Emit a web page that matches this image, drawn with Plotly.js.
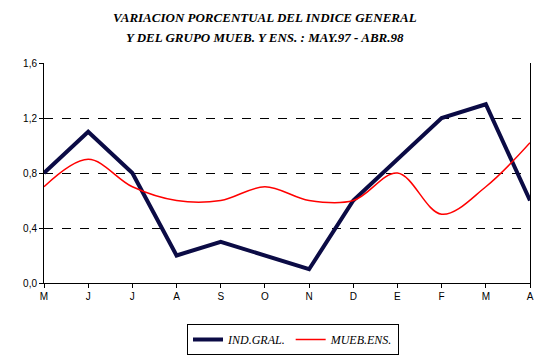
<!DOCTYPE html>
<html>
<head>
<meta charset="utf-8">
<script src="https://cdn.plot.ly/plotly-3.0.1.min.js"></script>
<style>html,body{margin:0;padding:0;background:#fff;}#chart{width:541px;height:356px;}</style>
</head>
<body>
<div id="chart"></div>
<script>
const months = ["M","J","J","A","S","O","N","D","E","F","M","A"];
const indGral = [0.8, 1.1, 0.8, 0.2, 0.3, 0.2, 0.1, 0.6, 0.9, 1.2, 1.3, 0.6];
const muebEns = [0.7, 0.9, 0.7, 0.6, 0.6, 0.7, 0.6, 0.6, 0.8, 0.5, 0.7, 1.02];
const yTicks = [0, 0.4, 0.8, 1.2, 1.6];
const gridVals = [0.4, 0.8, 1.2];
const titleLines = ["VARIACION PORCENTUAL DEL INDICE GENERAL", "Y DEL GRUPO MUEB. Y ENS. : MAY.97 - ABR.98"];

const xIdx = months.map((m, i) => i);
const serif = "'Liberation Serif', 'Times New Roman', serif";
const sans = "'Liberation Sans', Arial, sans-serif";

const traces = [
  {x: xIdx, y: indGral, name: "IND.GRAL.", mode: "lines", type: "scatter",
   line: {color: "#0b0b45", width: 4}},
  {x: xIdx, y: muebEns, name: "MUEB.ENS.", mode: "lines", type: "scatter",
   line: {color: "#ff0000", width: 1.5, shape: "spline", smoothing: 1}},
  {x: [null], y: [null], yaxis: "y2", showlegend: false, hoverinfo: "skip"}
];

const titleFont = {family: serif, size: 13, color: "#000", weight: "bold", style: "italic"};
const plotTop = 63, plotH = 220, plotL = 44, plotW = 486;

const layout = {
  width: 541, height: 356,
  paper_bgcolor: "#fff", plot_bgcolor: "rgba(0,0,0,0)",
  margin: {l: 44, r: 11, t: 63, b: 73, autoexpand: false},
  separators: ",.",
  annotations: titleLines.map((t, i) => ({
    text: t, xref: "paper", yref: "paper", x: (265 - plotL) / plotW, xanchor: "center",
    y: 1 + (plotTop - (17 + 20 * i)) / plotH, yanchor: "middle", showarrow: false, font: titleFont
  })),
  xaxis: {
    range: [0, 11], tickmode: "array", tickvals: xIdx, ticktext: months,
    showgrid: false, zeroline: false, showline: true, linecolor: "#000", linewidth: 1,
    ticks: "outside", ticklen: 4, tickcolor: "#000",
    tickfont: {family: sans, size: 10, color: "#000"}
  },
  yaxis: {
    range: [0, 1.6], tickmode: "array", tickvals: yTicks, tickformat: ".1f",
    showgrid: false, zeroline: false, showline: true, mirror: true, linecolor: "#000", linewidth: 1,
    ticks: "outside", ticklen: 4, tickcolor: "#000",
    tickfont: {family: sans, size: 10, color: "#000"}
  },
  yaxis2: {
    overlaying: "y", range: [0, 1.6], tickmode: "array", tickvals: gridVals,
    showticklabels: false, showgrid: true, gridcolor: "#000", gridwidth: 1, griddash: "dash",
    zeroline: false, showline: false, ticks: ""
  },
  legend: {
    orientation: "h", x: (293 - plotL) / plotW, xanchor: "center", y: -41 / plotH, yanchor: "top",
    bordercolor: "#000", borderwidth: 1, bgcolor: "#fff",
    font: {family: serif, size: 12, color: "#000", style: "italic"},
    itemwidth: 30, tracegroupgap: 0
  },
  showlegend: true
};

Plotly.newPlot("chart", traces, layout, {displayModeBar: false, staticPlot: true});
</script>
</body>
</html>
